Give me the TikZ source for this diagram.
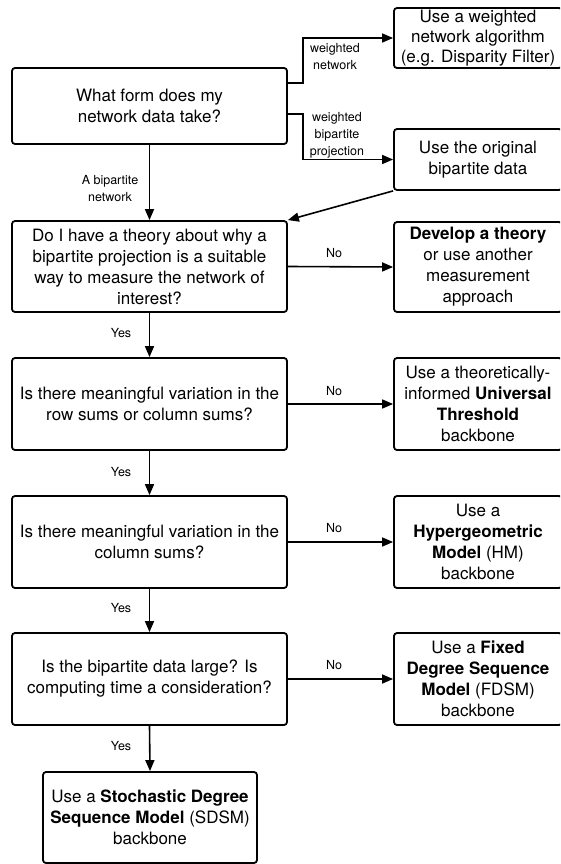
\documentclass[tikz,border=0pt]{standalone}
\usepackage{fontspec}
\setmainfont{TeX Gyre Heros}
\usetikzlibrary{arrows.meta}
\begin{document}
\begin{tikzpicture}[x=1pt,y=-1pt,
  box/.style={draw,line width=1.8pt,rounded corners=3pt,inner sep=0pt,align=center,
    font=\fontsize{17}{21}\selectfont},
  qbox/.style={box,minimum width=275pt},
  rbox/.style={box,minimum width=168pt},
  arr/.style={line width=1.6pt,-{Triangle[length=11pt,width=9pt]}},
  lbl/.style={font=\fontsize{12.5}{17}\selectfont,align=center,inner sep=0pt}]
\useasboundingbox (0,0) rectangle (560,864);
\clip (0,0) rectangle (560,864);
% question boxes
\node[qbox,minimum height=76pt] (q1) at (149.5,106) {What form does my\\network data take?};
\node[qbox,minimum height=91pt] (q2) at (149.5,266.5) {Do I have a theory about why a\\bipartite projection is a suitable\\way to measure the network of\\interest?};
\node[qbox,minimum height=92pt] (q3) at (149.5,404) {Is there meaningful variation in the\\row sums or column sums?};
\node[qbox,minimum height=92pt] (q4) at (149.5,542) {Is there meaningful variation in the\\column sums?};
\node[qbox,minimum height=92pt] (q5) at (149.5,679) {Is the bipartite data large? Is\\computing time a consideration?};
\node[box,minimum width=214pt,minimum height=91pt] (q6) at (150,817.5) {Use a \textbf{Stochastic Degree}\\\textbf{Sequence Model} (SDSM)\\backbone};
% answer boxes
\node[rbox,minimum height=60pt,font=\fontsize{17}{20}\selectfont] (r1) at (478,38) {Use a weighted\\network algorithm\\(e.g. Disparity Filter)};
\node[rbox,minimum height=61pt] (r2) at (478,159.5) {Use the original\\bipartite data};
\node[rbox,minimum height=90pt] (r3) at (478,267) {\textbf{Develop a theory}\\or use another\\measurement\\approach};
\node[rbox,minimum height=92pt] (r4) at (478,404) {Use a theoretically-\\informed \textbf{Universal}\\\textbf{Threshold}\\backbone};
\node[rbox,minimum height=92pt] (r5) at (478,542) {Use a\\\textbf{Hypergeometric}\\\textbf{Model} (HM)\\backbone};
\node[rbox,minimum height=92pt] (r6) at (478,679) {Use a \textbf{Fixed}\\\textbf{Degree Sequence}\\\textbf{Model} (FDSM)\\backbone};
% connectors
\draw[arr] ([yshift=23pt]q1.east) -- ++(15,0) |- (r1.west);
\draw[arr] ([yshift=-8pt]q1.east) -- ++(15,0) |- (r2.west);
\draw[arr] (q1.south) -- (q2.north);
\draw[arr] (r2.south west) -- (q2.north east);
\draw[arr] (q2.east) -- (r3.west);
\draw[arr] (q2.south) -- (q3.north);
\draw[arr] (q3.east) -- (r4.west);
\draw[arr] (q3.south) -- (q4.north);
\draw[arr] (q4.east) -- (r5.west);
\draw[arr] (q4.south) -- (q5.north);
\draw[arr] (q5.east) -- (r6.west);
\draw[arr] (q5.south) -- (q6.north);
% labels
\node[lbl] (l1) at (335,56.5) {weighted\\network};
\node[lbl] (l2) at (337,135) {weighted\\bipartite\\projection};
\node[lbl] (l3) at (110,188.5) {A bipartite\\network};
\node[lbl] (n1) at (334,253) {No};
\node[lbl] (n2) at (334,391) {No};
\node[lbl] (n3) at (334,528) {No};
\node[lbl] (n4) at (334,665) {No};
\node[lbl] (y1) at (121,333) {Yes};
\node[lbl] (y2) at (121,472) {Yes};
\node[lbl] (y3) at (121,608) {Yes};
\node[lbl] (y4) at (121,746) {Yes};
\end{tikzpicture}
\end{document}
